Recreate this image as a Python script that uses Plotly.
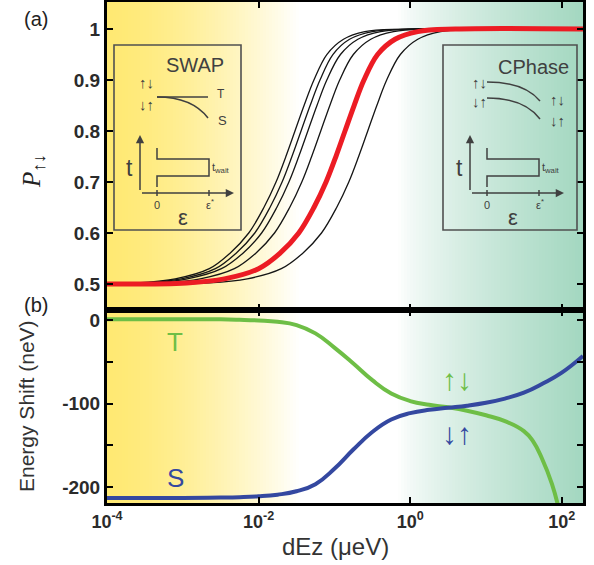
import numpy as np
import plotly.graph_objects as go

# ---------------- data ----------------
# panel (a): probability levels and the log10(dEz) where each curve reaches them
p_levels = [0.5, 0.502, 0.51, 0.53, 0.56, 0.6, 0.65, 0.7, 0.75, 0.8, 0.85, 0.9, 0.95, 0.98, 0.995, 1.0, 1.0]
red_log = [-4, -2.95, -2.45, -2.00, -1.72, -1.47, -1.27, -1.11, -0.98, -0.86, -0.74, -0.61, -0.43, -0.20, 0.10, 0.60, 2.28]
black1_log = [-4, -3.60, -3.10, -2.65, -2.38, -2.13, -1.93, -1.77, -1.64, -1.52, -1.40, -1.27, -1.10, -0.88, -0.60, -0.10, 2.28]
black2_log = [-4, -3.52, -3.02, -2.57, -2.30, -2.05, -1.85, -1.69, -1.56, -1.44, -1.32, -1.19, -1.02, -0.80, -0.50, 0.00, 2.28]
black3_log = [-4, -3.44, -2.94, -2.49, -2.21, -1.96, -1.76, -1.60, -1.47, -1.35, -1.23, -1.10, -0.92, -0.69, -0.39, 0.11, 2.28]
black4_log = [-4, -3.27, -2.77, -2.32, -2.04, -1.79, -1.59, -1.43, -1.30, -1.18, -1.06, -0.93, -0.75, -0.52, -0.22, 0.28, 2.28]
black5_log = [-4, -2.65, -2.15, -1.70, -1.42, -1.17, -0.97, -0.81, -0.68, -0.56, -0.44, -0.31, -0.13, 0.10, 0.40, 0.90, 2.28]

# panel (b): energy shifts (neV) of the triplet-like (T) and singlet-like (S) branches
T_log = [-4, -3, -2.5, -2.25, -2.0, -1.75, -1.5, -1.25, -1.0, -0.75, -0.5, -0.25, 0.0, 0.25, 0.5, 0.75,
         1.0, 1.25, 1.5, 1.62, 1.74, 1.87, 1.95]
T_shift = [1, 1, 0.8, 0.3, -0.5, -2, -6, -16, -33, -52, -72, -88, -97, -101.5, -104.5, -108.5,
           -114, -121, -133, -145, -166, -196, -222]
S_log = [-4, -3, -2.5, -2.25, -2.0, -1.75, -1.5, -1.25, -1.0, -0.75, -0.5, -0.25, 0.0, 0.25, 0.5, 0.75,
         1.0, 1.25, 1.5, 1.75, 2.0, 2.28]
S_shift = [-213, -213, -212.5, -212, -211, -209, -205, -196.5, -178, -155, -134, -119, -111.5, -107.5, -105,
           -102.5, -99, -94, -87, -76, -63, -43]

x_tick_vals = [1e-4, 1e-2, 1, 1e2]
x_tick_text = ["10<sup>-4</sup>", "10<sup>-2</sup>", "10<sup>0</sup>", "10<sup>2</sup>"]
p_tick_vals = [0.5, 0.6, 0.7, 0.8, 0.9, 1.0]
p_tick_text = ["0.5", "0.6", "0.7", "0.8", "0.9", "1"]
e_tick_vals = [-200, -150, -100, -50, 0]
e_tick_text = ["-200", "", "-100", "", "0"]

# ---------------- geometry helpers ----------------
W, H = 594, 565
ML, MR, MT, MB = 107, 11, 2, 62
PW, PH = W - ML - MR, H - MT - MB
def px(x):
    return (x - ML) / PW
def py(y):
    return (H - MB - y) / PH
split = py(310)

fig = go.Figure()

def xs(logs):
    return list(np.power(10.0, np.array(logs)))

for arr in [black1_log, black2_log, black3_log, black4_log, black5_log]:
    fig.add_trace(go.Scatter(x=xs(arr), y=p_levels, mode="lines", xaxis="x2", yaxis="y2",
                             line=dict(color="#151515", width=1.3, shape="spline", smoothing=1.0),
                             showlegend=False, hoverinfo="skip"))
fig.add_trace(go.Scatter(x=xs(red_log), y=p_levels, mode="lines", xaxis="x2", yaxis="y2",
                         line=dict(color="rgb(236,28,36)", width=5, shape="spline", smoothing=1.0),
                         showlegend=False, hoverinfo="skip"))
fig.add_trace(go.Scatter(x=xs(T_log), y=T_shift, mode="lines", xaxis="x", yaxis="y",
                         line=dict(color="rgb(110,190,70)", width=4, shape="spline", smoothing=1.3),
                         showlegend=False, hoverinfo="skip"))
fig.add_trace(go.Scatter(x=xs(S_log), y=S_shift, mode="lines", xaxis="x", yaxis="y",
                         line=dict(color="rgb(52,72,160)", width=4, shape="spline", smoothing=1.3),
                         showlegend=False, hoverinfo="skip"))

# ---------------- background gradient ----------------
shapes = []
yel = np.array([255, 233, 115])
grn = np.array([163, 215, 192])
wht = np.array([255, 255, 255])
step = 3
xp = ML
while xp < ML + PW:
    xc = xp + step / 2
    if xc < 300:
        t = (xc - ML) / (300 - ML)
        a = 1 - t ** 1.5
        c = wht * (1 - a) + yel * a
    elif xc > 398:
        t = (xc - 398) / (ML + PW - 398)
        a = t ** 0.75
        c = wht * (1 - a) + grn * a
    else:
        c = wht
    shapes.append(dict(type="rect", xref="paper", yref="paper", x0=px(xp), x1=px(min(xp + step + 0.6, ML + PW)),
                       y0=0, y1=1, line=dict(width=0), layer="below",
                       fillcolor="rgb(%d,%d,%d)" % tuple(int(round(v)) for v in c)))
    xp += step

# ---------------- insets ----------------
ink = "#404040"
def pline(pts, width=1.5):
    d = "M " + " L ".join("%f,%f" % (px(a), py(b)) for a, b in pts)
    return dict(type="path", xref="paper", yref="paper", path=d, line=dict(color=ink, width=width))

def qcurve(p0, c, p1, width=1.5):
    d = "M %f,%f Q %f,%f %f,%f" % (px(p0[0]), py(p0[1]), px(c[0]), py(c[1]), px(p1[0]), py(p1[1]))
    return dict(type="path", xref="paper", yref="paper", path=d, line=dict(color=ink, width=width))

for (x0, x1) in [(114, 241), (443, 577)]:
    shapes.append(dict(type="rect", xref="paper", yref="paper", x0=px(x0), x1=px(x1), y0=py(230), y1=py(45),
                       line=dict(color="#505050", width=1.6)))

annotations = []
def txt(x, y, s, size, color=ink, family="Liberation Sans", weight="normal", **kw):
    annotations.append(dict(x=px(x), y=py(y), xref="paper", yref="paper", text=s, showarrow=False,
                            font=dict(size=size, color=color, family=family, weight=weight),
                            xanchor="center", yanchor="middle", **kw))

def arrow(xh, yh, ax, ay):
    annotations.append(dict(x=px(xh), y=py(yh), xref="paper", yref="paper", text=" ", showarrow=True,
                            ax=ax, ay=ay, arrowhead=2, arrowsize=1.1, arrowwidth=1.5, arrowcolor=ink,
                            font=dict(size=2)))

for dx in [0, 330]:
    arrow(140 + dx, 135, 0, 58)
    arrow(234 + dx, 193, -94, 0)
    shapes.append(pline([(157 + dx, 148), (157 + dx, 159), (209 + dx, 159), (209 + dx, 176),
                         (157 + dx, 176), (157 + dx, 187)]))
    shapes.append(pline([(157 + dx, 190), (157 + dx, 196)]))
    shapes.append(pline([(209 + dx, 190), (209 + dx, 196)]))
    txt(129 + dx, 168, "t", 23)
    txt(221 + dx, 168, "t<sub>wait</sub>", 11)
    txt(157 + dx, 205, "0", 11)
    txt(210 + dx, 204, "ε<sup>*</sup>", 11)
    txt(183 + dx, 218, "ε", 22)

# SWAP
shapes.append(pline([(157, 97), (208, 97)]))
shapes.append(qcurve((157, 97), (192, 97), (208, 118)))
txt(195, 65, "SWAP", 20)
txt(146, 82, "↑↓", 15, weight="bold")
txt(146, 104, "↓↑", 15, weight="bold")
txt(221, 94, "T", 12)
txt(222, 121, "S", 13)
# CPhase
shapes.append(qcurve((487, 82), (524, 82), (540, 101)))
shapes.append(qcurve((487, 98), (524, 98), (540, 119)))
txt(533, 67, "CPhase", 20)
txt(479, 82, "↑↓", 15, weight="bold")
txt(479, 102, "↓↑", 15, weight="bold")
txt(557, 100, "↑↓", 15, weight="bold")
txt(557, 120, "↓↑", 15, weight="bold")

# panel (b) labels
txt(175, 342, "T", 26, color="rgb(110,190,70)")
txt(175, 478, "S", 26, color="rgb(52,72,160)")
txt(457, 379, "↑↓", 30, color="rgb(110,190,70)", weight="bold")
txt(457, 433, "↓↑", 30, color="rgb(52,72,160)", weight="bold")

# titles and panel tags
txt(36, 19, "(a)", 20, color="#222")
txt(36, 305, "(b)", 20, color="#222")
txt(33, 171, "<i>P</i><sub>↑↓</sub>", 25, color="#222", family="Liberation Serif", textangle=-90)
txt(26, 406, "Energy Shift (neV)", 21, color="#333", textangle=-90)
txt(335, 546, "dEz (μeV)", 24, color="#333")

axis_common = dict(showline=True, linecolor="black", linewidth=3, mirror="allticks", ticks="inside",
                   ticklen=6, tickwidth=2, tickcolor="black", showgrid=False, zeroline=False)
tickfont = dict(family="Liberation Sans", size=19, color="#2b2b2b", weight="bold")

fig.update_layout(
    width=W, height=H, margin=dict(l=ML, r=MR, t=MT, b=MB, autoexpand=False),
    paper_bgcolor="white", plot_bgcolor="rgba(0,0,0,0)",
    showlegend=False,
    xaxis=dict(type="log", range=[-4, 2.28], domain=[0, 1], anchor="y", tickvals=x_tick_vals,
               ticktext=x_tick_text, tickfont=dict(family="Liberation Sans", size=18, color="#2b2b2b",
                                                   weight="bold"), **axis_common),
    xaxis2=dict(type="log", range=[-4, 2.28], domain=[0, 1], anchor="y2", matches="x",
                tickvals=x_tick_vals, showticklabels=False, **axis_common),
    yaxis=dict(range=[-219, 12], domain=[0, split], anchor="x", tickvals=e_tick_vals,
               ticktext=e_tick_text, tickfont=tickfont, **axis_common),
    yaxis2=dict(range=[0.449, 1.053], domain=[split, 1], anchor="x2", tickvals=p_tick_vals,
                ticktext=p_tick_text, tickfont=tickfont, **axis_common),
    shapes=shapes, annotations=annotations,
)

fig.write_html("out.html", config={"displayModeBar": False},
               post_script="document.body.style.margin='0px';document.body.style.overflow='hidden';")
